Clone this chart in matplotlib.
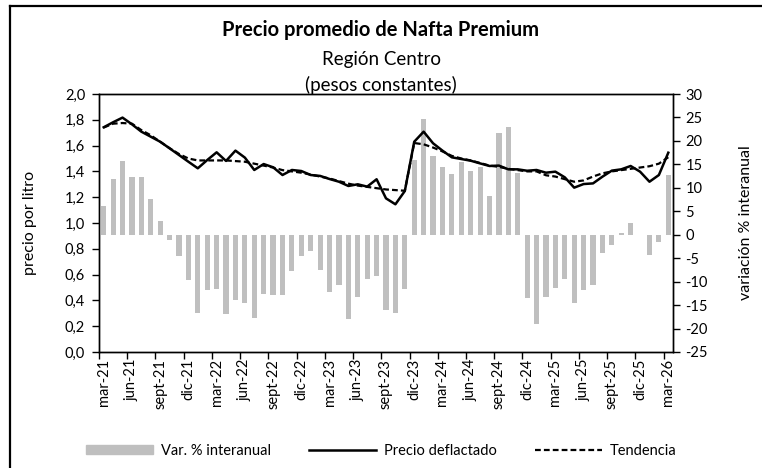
import matplotlib
matplotlib.use("Agg")
import matplotlib.pyplot as plt
import matplotlib.lines as mlines
import matplotlib.patches as mpatches
from matplotlib.ticker import FixedLocator, FuncFormatter, MultipleLocator
import numpy as np

plt.rcParams['font.family'] = ['Lato', 'DejaVu Sans']
plt.rcParams['axes.unicode_minus'] = False

# serie mensual mar-21 .. mar-26
tick_labels = ['mar-21', 'jun-21', 'sept-21', 'dic-21', 'mar-22', 'jun-22', 'sept-22',
               'dic-22', 'mar-23', 'jun-23', 'sept-23', 'dic-23', 'mar-24', 'jun-24',
               'sept-24', 'dic-24', 'mar-25', 'jun-25', 'sept-25', 'dic-25', 'mar-26']

var_interanual = [6.2, 11.9, 15.7, 12.2, 12.2, 7.7, 3.0, -1.1, -4.5, -9.6,
                  -16.7, -11.8, -11.6, -17.0, -14.0, -14.5, -17.8, -12.6, -12.9, -12.9,
                  -7.8, -4.5, -3.5, -7.5, -12.3, -10.8, -18.0, -13.2, -9.4, -8.9,
                  -16.1, -16.7, -11.6, 16.0, 24.6, 16.8, 14.4, 13.0, 15.6, 13.6,
                  14.5, 8.2, 21.6, 23.0, 13.1, -13.5, -19.1, -13.2, -11.3, -9.4,
                  -14.5, -11.8, -10.8, -3.8, -2.1, 0.3, 2.5, -0.1, -4.3, -1.6,
                  12.8]

precio = [1.742, 1.781, 1.817, 1.765, 1.708, 1.669, 1.630, 1.579, 1.527, 1.475,
          1.424, 1.488, 1.548, 1.481, 1.561, 1.507, 1.411, 1.457, 1.432, 1.372,
          1.411, 1.403, 1.372, 1.365, 1.341, 1.320, 1.287, 1.300, 1.282, 1.339,
          1.191, 1.145, 1.248, 1.630, 1.708, 1.618, 1.561, 1.509, 1.496, 1.483,
          1.462, 1.442, 1.445, 1.416, 1.416, 1.405, 1.411, 1.390, 1.398, 1.354,
          1.274, 1.302, 1.307, 1.359, 1.406, 1.416, 1.442, 1.398, 1.320, 1.372,
          1.545]

tendencia = [1.74, 1.77, 1.775, 1.77, 1.72, 1.68, 1.63, 1.58, 1.535, 1.50,
             1.485, 1.485, 1.485, 1.485, 1.48, 1.475, 1.46, 1.445, 1.43, 1.41,
             1.40, 1.39, 1.375, 1.36, 1.345, 1.325, 1.305, 1.29, 1.28, 1.27,
             1.26, 1.255, 1.25, 1.62, 1.61, 1.585, 1.555, 1.52, 1.50, 1.485,
             1.465, 1.445, 1.435, 1.42, 1.41, 1.40, 1.40, 1.37, 1.36, 1.34,
             1.32, 1.33, 1.36, 1.385, 1.40, 1.41, 1.42, 1.43, 1.44, 1.46,
             1.51]

x = np.arange(len(precio))
bar_color = '#BFBFBF'

fig = plt.figure(figsize=(7.62, 4.68), dpi=100)
ax = fig.add_axes([99/762, 1 - 352/468, (673 - 99)/762, (352 - 94)/468])
ax2 = ax.twinx()

# barras en el eje derecho, lineas por encima
ax2.bar(x, var_interanual, width=0.55, color=bar_color, zorder=1)
ax.plot(x, precio, color='black', lw=1.8, zorder=3)
ax.plot(x, tendencia, color='black', lw=1.6, ls=(0, (2.6, 1.4)), zorder=4)
ax.set_zorder(ax2.get_zorder() + 1)
ax.patch.set_visible(False)

ax.set_xlim(-0.5, len(x) - 0.5)
ax.set_ylim(0, 2.0)
ax2.set_ylim(-25, 30)
ax.yaxis.set_major_locator(MultipleLocator(0.2))
ax.yaxis.set_major_formatter(FuncFormatter(lambda v, p: ('%.1f' % v).replace('.', ',')))
ax2.yaxis.set_major_locator(MultipleLocator(5))
ax2.yaxis.set_major_formatter(FuncFormatter(lambda v, p: '%d' % round(v)))

ax.xaxis.set_major_locator(FixedLocator(np.arange(0, len(x), 3)))
ax.set_xticklabels(tick_labels, rotation=90, fontsize=10.5)
ax.xaxis.set_minor_locator(FixedLocator(np.arange(-0.5, len(x), 3)))
ax.tick_params(axis='x', which='major', length=0, pad=5)
ax.tick_params(axis='x', which='minor', length=5, width=1, direction='out')
ax.tick_params(axis='y', length=5, width=1, direction='out', labelsize=10.5, pad=5)
ax2.tick_params(axis='y', length=5, width=1, direction='out', labelsize=10.5, pad=4)

for a in (ax, ax2):
    for s in a.spines.values():
        s.set_linewidth(1.0)
        s.set_color('black')

ax.set_ylabel('precio por litro', fontsize=11.5, labelpad=20)
ax2.set_ylabel('variación % interanual', fontsize=11.5, labelpad=22)

fig.text(0.5, 1 - 30/468, 'Precio promedio de Nafta Premium', ha='center', va='center',
         fontsize=14.5, fontweight='bold')
fig.text(0.5, 1 - 59/468, 'Región Centro', ha='center', va='center', fontsize=13.5)
fig.text(0.5, 1 - 85/468, '(pesos constantes)', ha='center', va='center', fontsize=13.5)

handles = [
    mpatches.Patch(color=bar_color, label='Var. % interanual'),
    mlines.Line2D([], [], color='black', lw=1.8, label='Precio deflactado'),
    mlines.Line2D([], [], color='black', lw=1.6, ls=(0, (2.6, 1.4)), label='Tendencia'),
]
fig.legend(handles=handles, loc='center', bbox_to_anchor=(0.5, 1 - 451/468), ncol=3,
           frameon=False, fontsize=10.5, handlelength=4.6, handleheight=0.55,
           handletextpad=0.55, columnspacing=2.6)

# marco exterior
fig.add_artist(mlines.Line2D([10/762, 10/762], [0, 1 - 6/468], color='black', lw=1.6,
                             transform=fig.transFigure))
fig.add_artist(mlines.Line2D([10/762, 1], [1 - 6/468, 1 - 6/468], color='black', lw=1.6,
                             transform=fig.transFigure))

fig.savefig('out.png', dpi=100)
